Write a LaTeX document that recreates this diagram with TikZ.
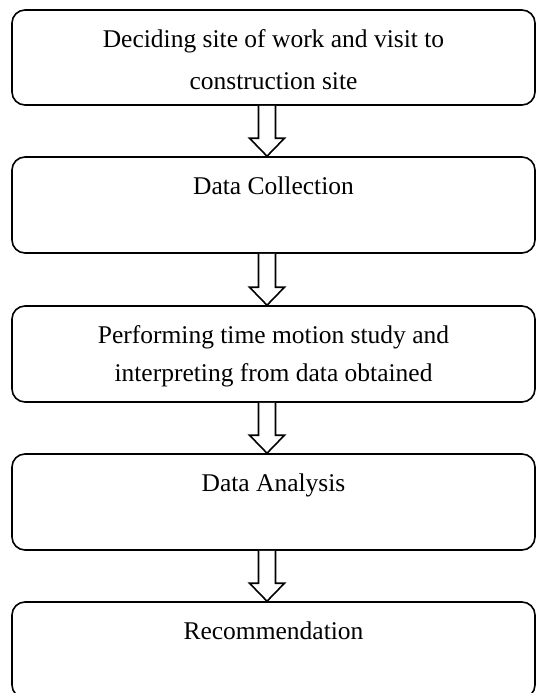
\documentclass[tikz,border=0pt]{standalone}
\usepackage{fontspec}
\setmainfont{Liberation Serif}
\usepackage{xcolor}
\usepackage{tikz}
\usetikzlibrary{calc,positioning}
\definecolor{ink}{HTML}{000000}
\definecolor{paper}{HTML}{FFFFFF}
\tikzset{
  stage/.style={draw=ink, line width=1.6pt, rounded corners=13pt, fill=paper,
    minimum width=523pt, minimum height=96pt, inner sep=0pt},
  lab/.style={text=ink, inner sep=0pt, align=center,
    font=\fontsize{25.5}{42}\selectfont},
  hollow/.style={draw=ink, line width=1.6pt, fill=paper, line join=miter}
}
\begin{document}
\begin{tikzpicture}[x=1pt, y=-1pt]
  \useasboundingbox (0,0) rectangle (536,693);

  \node[stage, minimum height=95pt] (s1) at (273.5,57.5) {};
  \node[stage] (s2) at (273.5,205) {};
  \node[stage] (s3) at (273.5,354) {};
  \node[stage] (s4) at (273.5,502) {};
  \node[stage] (s5) at (273.5,650) {};

  \node[lab, below=20pt of s1.north] (t1) {Deciding site of work and visit to\\construction site};
  \node[lab, below=20pt of s2.north] (t2) {Data Collection};
  \node[lab, below=20pt of s3.north, font=\fontsize{25.5}{38}\selectfont] (t3) {Performing time motion study and\\interpreting from data obtained};
  \node[lab, below=20pt of s4.north] (t4) {Data Analysis};
  \node[lab, below=20pt of s5.north] (t5) {Recommendation};

  \foreach \a/\b in {s1/s2, s2/s3, s3/s4, s4/s5} {
    \draw[hollow] ($(\a.south)+(-15,0)$) -- ($(\b.north)+(-15,-18)$)
      -- ($(\b.north)+(-24,-18)$) -- ($(\b.north)+(-6.5,0)$)
      -- ($(\b.north)+(11,-18)$) -- ($(\b.north)+(2,-18)$)
      -- ($(\a.south)+(2,0)$);
  }
\end{tikzpicture}
\end{document}
